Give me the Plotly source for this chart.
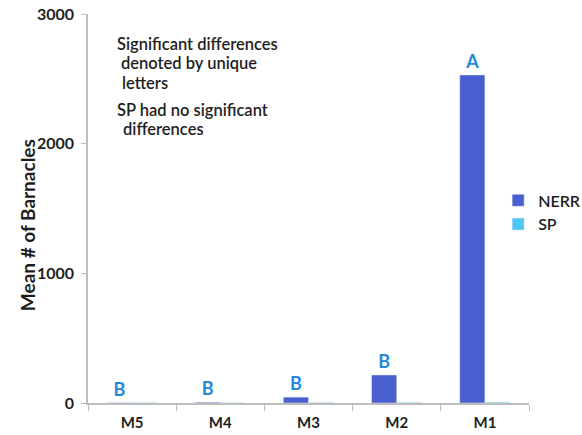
import plotly.graph_objects as go

sites = ["M5", "M4", "M3", "M2", "M1"]
nerr = [2, 6, 45, 216, 2530]
sp = [3, 2, 4, 5, 6]
letters = ["B", "B", "B", "B", "A"]

note_lines = [
    "Significant differences",
    "denoted by unique",
    "letters",
    "SP had no significant",
    "differences",
]

font = "Lato, 'Open Sans', sans-serif"
ink = "#1E1E1E"

fig = go.Figure()
fig.add_trace(go.Bar(
    x=sites, y=nerr, name="NERR", marker_color="#4A5FCF",
    text=letters, textposition="outside", cliponaxis=False,
    textfont=dict(color="#2389D6", size=18, family=font, weight="bold"),
))
fig.add_trace(go.Bar(
    x=sites, y=sp, name="SP", marker_color="#4FC6F2",
))

fig.update_layout(
    width=582, height=435,
    margin=dict(l=88, r=53, t=14, b=32, autoexpand=False),
    plot_bgcolor="white", paper_bgcolor="white",
    barmode="group", bargap=0.43, bargroupgap=0,
    font=dict(family=font, color=ink),
    showlegend=True,
    legend=dict(x=0.93, y=0.49, xanchor="left", yanchor="middle",
                font=dict(size=16, color=ink, weight=600),
                itemwidth=30, bgcolor="rgba(0,0,0,0)"),
)
fig.update_xaxes(
    automargin=False,
    showline=True, linecolor="#BDBDBD", linewidth=1.5,
    ticks="outside", tickson="boundaries", ticklen=6, tickcolor="#BDBDBD",
    ticklabelstandoff=5,
    tickfont=dict(size=15, color=ink, family=font, weight="bold"),
    showgrid=False,
)
fig.update_yaxes(
    automargin=False,
    range=[0, 3000], tickvals=[0, 1000, 2000, 3000],
    showline=True, linecolor="#BDBDBD", linewidth=1.5,
    ticks="outside", ticklen=5, tickcolor="#BDBDBD",
    ticklabelstandoff=4,
    tickfont=dict(size=16, color=ink, family=font, weight="bold"),
    showgrid=False, zeroline=False,
)

# Vertical axis title
fig.add_annotation(
    xref="paper", yref="paper", x=-0.166, y=0.458,
    text="<b>Mean # of Barnacles</b>", textangle=-90, showarrow=False,
    font=dict(size=19, color=ink, family=font),
)

# Explanatory note, one line per annotation for tight line spacing
note_font = dict(size=16.5, color=ink, family=font, weight=600)
note_x = [0.061, 0.070, 0.072, 0.061, 0.074]
note_y = [0.922, 0.873, 0.822, 0.753, 0.704]
for line, nx, ny in zip(note_lines, note_x, note_y):
    fig.add_annotation(
        xref="paper", yref="paper", x=nx, y=ny, xanchor="left", yanchor="middle",
        text=line, showarrow=False, align="left", font=note_font,
        height=18, valign="middle",
    )

fig.write_html("out.html")
